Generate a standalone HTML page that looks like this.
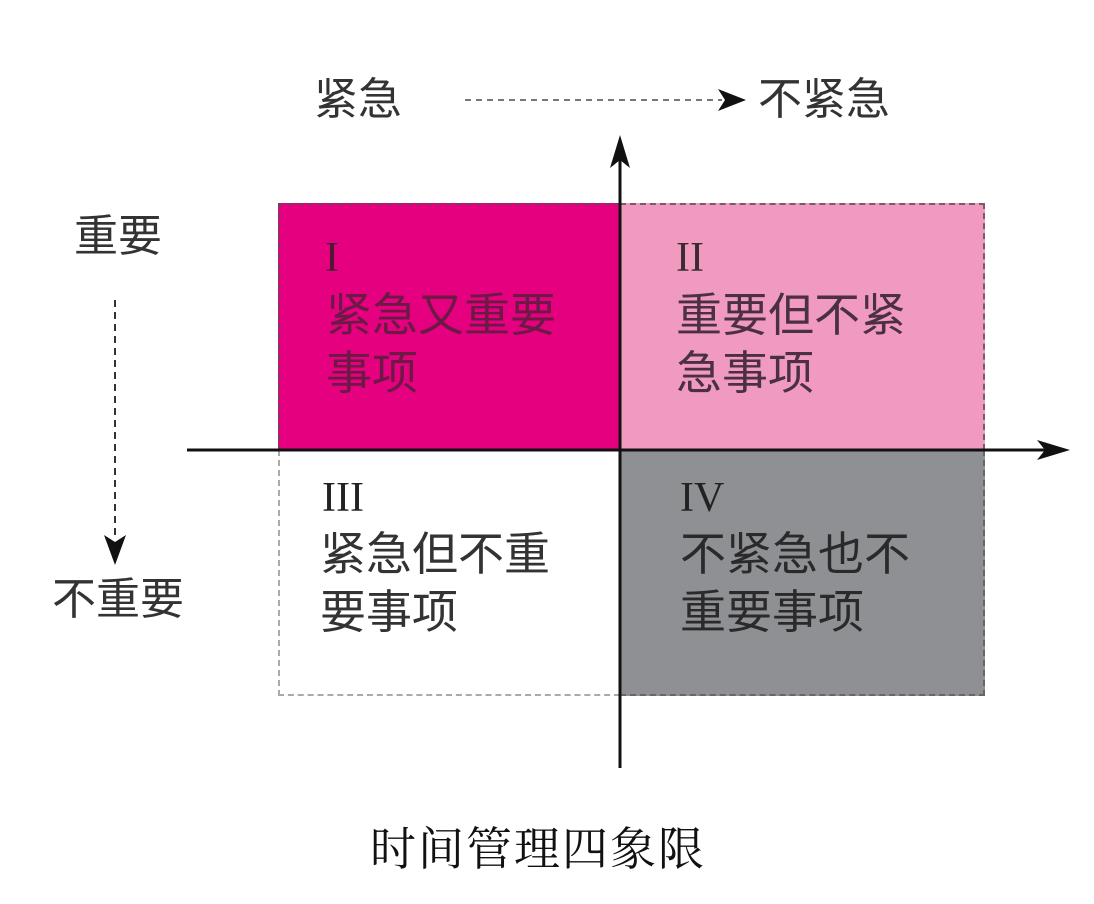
<!DOCTYPE html>
<html><head><meta charset="utf-8"><style>
body{margin:0;background:#fff;width:1094px;height:904px;position:relative;overflow:hidden;font-family:"Liberation Sans","Noto Sans CJK SC",sans-serif;}
.t{position:absolute;font-size:44px;line-height:56px;color:#333;white-space:nowrap;}
.q{position:absolute;box-sizing:border-box;}
.r{position:absolute;font-family:"Liberation Serif",serif;font-size:42px;line-height:48px;color:#222;}
</style></head><body>
<div class="q" style="left:278px;top:203px;width:342px;height:247px;background:#e5007f;border:2px dashed #7a3a5a;border-right:none;border-bottom:none"></div>
<div class="q" style="left:620px;top:203px;width:365px;height:247px;background:#f19ac0;border:2px dashed #7a5a66;border-left:none;border-bottom:none"></div>
<div class="q" style="left:278px;top:450px;width:342px;height:246px;background:#fff;border:2px dashed #aaa;border-right:none;border-top:none"></div>
<div class="q" style="left:620px;top:450px;width:365px;height:246px;background:#8e9093;border:2px dashed #666;border-left:none;border-top:none"></div>
<svg style="position:absolute;left:0;top:0" width="1094" height="904">
<line x1="620" y1="160" x2="620" y2="768" stroke="#111" stroke-width="3"/>
<polygon points="620,135 610,168 620,160 630,168" fill="#111"/>
<line x1="187" y1="450" x2="1045" y2="450" stroke="#111" stroke-width="3"/>
<polygon points="1070,450 1037,440 1045,450 1037,460" fill="#111"/>
<line x1="465" y1="100" x2="722" y2="100" stroke="#777" stroke-width="2" stroke-dasharray="6,5"/>
<polygon points="746,100 718,89 725,100 718,111" fill="#111"/>
<line x1="115" y1="300" x2="115" y2="540" stroke="#333" stroke-width="2" stroke-dasharray="7,5"/>
<polygon points="115,565 104,535 115,542 126,535" fill="#111"/>
</svg>
<div class="t" style="left:314px;top:72px">紧急</div>
<div class="t" style="left:758px;top:72px">不紧急</div>
<div class="t" style="left:74px;top:209px">重要</div>
<div class="t" style="left:52px;top:572px">不重要</div>
<div class="r" style="left:325px;top:234px;color:#4a1a33">I</div>
<div class="t" style="left:326px;top:286px;font-size:46px;color:#6a1a45;line-height:58px">紧急又重要<br>事项</div>
<div class="r" style="left:676px;top:234px;color:#3a2a33">II</div>
<div class="t" style="left:676px;top:286px;font-size:46px;color:#4a3040;line-height:58px">重要但不紧<br>急事项</div>
<div class="r" style="left:322px;top:474px">III</div>
<div class="t" style="left:320px;top:525px;font-size:46px;color:#333;line-height:58px">紧急但不重<br>要事项</div>
<div class="r" style="left:680px;top:474px">IV</div>
<div class="t" style="left:680px;top:525px;font-size:46px;color:#2a2a2a;line-height:58px">不紧急也不<br>重要事项</div>
<div class="t" style="left:370px;top:822px;font-size:46px;color:#111;font-family:'Liberation Serif','Noto Serif CJK SC',serif;letter-spacing:2px">时间管理四象限</div>
</body></html>
